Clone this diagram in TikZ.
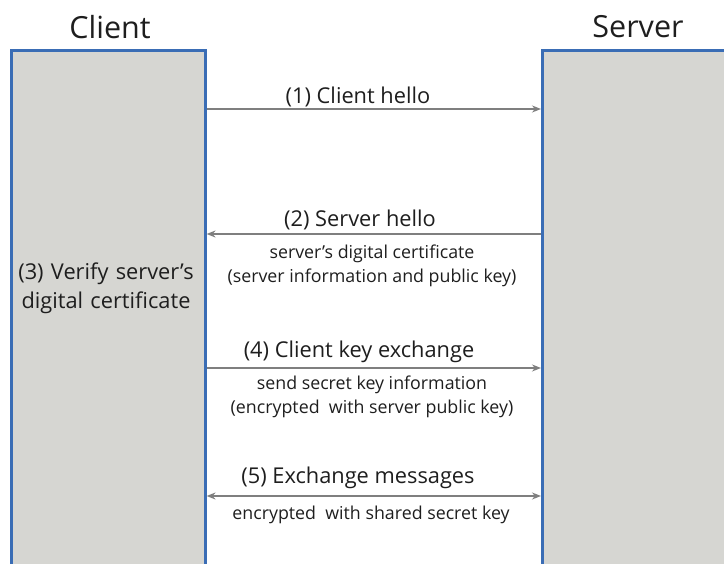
\documentclass[tikz,border=0pt]{standalone}
\usepackage{fontspec}
\setmainfont{Open Sans}
\usetikzlibrary{arrows.meta}
\definecolor{boxfill}{HTML}{D6D6D2}
\definecolor{boxline}{HTML}{3A6DB5}
\definecolor{arrowgray}{HTML}{7F7F7F}
\definecolor{ink}{HTML}{1E1E1E}
\tikzset{
  party/.style={draw=boxline, line width=2.6pt, fill=boxfill, anchor=north west, inner sep=0pt},
  title/.style={text=ink, font=\fontsize{30.5}{34}\selectfont},
  msg/.style={draw=arrowgray, line width=1.4pt, -{Stealth[length=9pt,width=7pt]}},
  msgboth/.style={draw=arrowgray, line width=1.4pt, {Stealth[length=9pt,width=7pt]}-{Stealth[length=9pt,width=7pt]}},
  steplabel/.style={text=ink, font=\fontsize{21.8}{24}\selectfont},
  note/.style={text=ink, font=\fontsize{17.8}{24}\selectfont, align=center}
}
\begin{document}
\begin{tikzpicture}[x=1pt,y=-1pt]
\useasboundingbox (0,0) rectangle (724,564);
\begin{scope}
\clip (0,0) rectangle (724,564);
% participant columns
\node[party, minimum width=194pt, minimum height=540pt] (client) at (10,49) {};
\node[party, minimum width=200pt, minimum height=540pt] (server) at (541,49) {};
\end{scope}
\node[title] (clientT) at (110,27) {Client};
\node[title] (serverT) at (638,27) {Server};

% message rows
\coordinate (m1) at (0,109);
\coordinate (m2) at (0,234);
\coordinate (m4) at (0,368);
\coordinate (m5) at (0,496);

\draw[msg] (client.east |- m1) -- (server.west |- m1);
\draw[msg] (server.west |- m2) -- (client.east |- m2);
\draw[msg] (client.east |- m4) -- (server.west |- m4);
\draw[msgboth] (client.east |- m5) -- (server.west |- m5);

\node[steplabel] (l1) at (358,97) {(1) Client hello};
\node[steplabel] (l2) at (360,220) {(2) Server hello};
\node[note] (n2) at (372,266) {server's digital certificate\\(server information and public key)};
\node[steplabel, align=center, text width=200pt, font=\fontsize{21.8}{29}\selectfont] (l3) at (106,288)
  {(3) Verify server's\\digital certificate};
\node[steplabel] (l4) at (359,352) {(4) Client key exchange};
\node[note] (n4) at (372,397) {send secret key information\\(encrypted\ \ with server public key)};
\node[steplabel] (l5) at (358,478) {(5) Exchange messages};
\node[note] (n5) at (371,515) {encrypted\ \ with shared secret key};
\end{tikzpicture}
\end{document}
